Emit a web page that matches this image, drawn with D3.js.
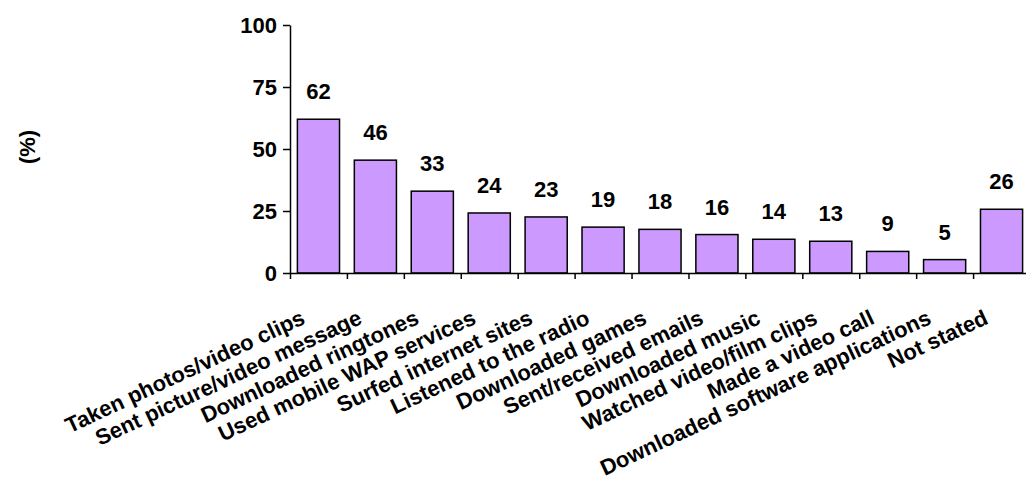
<!DOCTYPE html>
<html>
<head>
<meta charset="utf-8">
<script src="https://cdn.jsdelivr.net/npm/d3@7"></script>
<style>
  body { margin: 0; background: #fff; }
  text { font-family: "Liberation Sans", Arial, sans-serif; font-weight: bold; fill: #000; }
</style>
</head>
<body>
<div id="chart"></div>
<script>
var categories = [
    "Taken photos/video clips",
    "Sent picture/video message",
    "Downloaded ringtones",
    "Used mobile WAP services",
    "Surfed internet sites",
    "Listened to the radio",
    "Downloaded games",
    "Sent/received emails",
    "Downloaded music",
    "Watched video/film clips",
    "Made a video call",
    "Downloaded software applications",
    "Not stated"
];
var values = [62, 45.5, 33, 24.2, 22.6, 18.5, 17.6, 15.5, 13.6, 12.8, 8.7, 5.4, 25.7];
var yTicks = [0, 25, 50, 75, 100];

var svgWidth = 1026;
var svgHeight = 498;

var svg = d3.select("#chart")
    .append("svg")
    .attr("width", svgWidth)
    .attr("height", svgHeight);

var x0 = 290, x1 = 1030;

var xBand = d3.scaleBand()
    .domain(categories)
    .range([x0, x1])
    .paddingInner(0.26)
    .paddingOuter(0.13);

// tick positions sit on the band edges
var xEdge = d3.scaleLinear()
    .domain([0, categories.length])
    .range([x0, x1]);

var yScale = d3.scaleLinear()
    .domain([0, 100])
    .range([273, 25]);

// bars
svg.selectAll("rect.bar")
    .data(values)
    .enter()
    .append("rect")
    .attr("class", "bar")
    .attr("x", (d, i) => xBand(categories[i]))
    .attr("y", d => yScale(d))
    .attr("width", xBand.bandwidth())
    .attr("height", d => yScale(0) - yScale(d))
    .attr("fill", "#cc99ff")
    .attr("stroke", "#000")
    .attr("stroke-width", 1.5);

// value labels
svg.selectAll("text.val")
    .data(values)
    .enter()
    .append("text")
    .attr("class", "val")
    .attr("x", (d, i) => xBand(categories[i]) + xBand.bandwidth() / 2)
    .attr("y", d => yScale(d) - 20)
    .attr("text-anchor", "middle")
    .attr("font-size", "22px")
    .text(d => Math.round(d));

// axes
var leftAxis = d3.axisLeft(yScale)
    .tickValues(yTicks)
    .tickSize(7)
    .tickSizeOuter(0)
    .tickPadding(6);

var yAxisG = svg.append("g")
    .attr("transform", `translate(${x0}, 0)`)
    .call(leftAxis);

yAxisG.selectAll("text")
    .attr("font-size", "22px")
    .attr("font-family", null)
    .attr("dy", "0.36em");

var bottomAxis = d3.axisBottom(xEdge)
    .tickValues(d3.range(0, categories.length + 1))
    .tickSize(6)
    .tickSizeOuter(0)
    .tickFormat("");

svg.append("g")
    .attr("transform", `translate(0, ${yScale(0)})`)
    .call(bottomAxis);

svg.selectAll(".domain, .tick line")
    .attr("stroke", "#000")
    .attr("stroke-width", 1.5);

// category labels
svg.selectAll("text.cat")
    .data(categories)
    .enter()
    .append("text")
    .attr("class", "cat")
    .attr("transform", d => `translate(${xBand(d) + xBand.bandwidth() / 2 - 12}, 323) rotate(-25)`)
    .attr("text-anchor", "end")
    .attr("font-size", "22px")
    .text(d => d);

// y axis title
svg.append("text")
    .attr("transform", "translate(35, 147) rotate(-90)")
    .attr("text-anchor", "middle")
    .attr("font-size", "22px")
    .text("(%)");
</script>
</body>
</html>
